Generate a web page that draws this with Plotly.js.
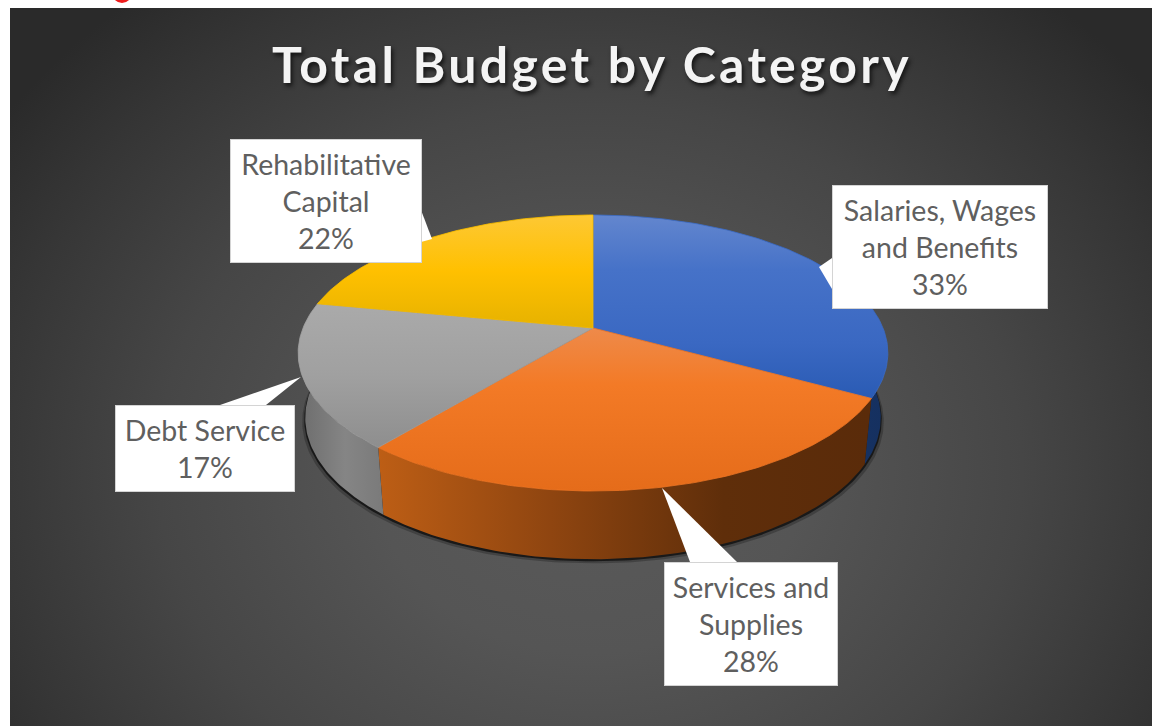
<!DOCTYPE html>
<html>
<head>
<meta charset="utf-8">
<script src="https://cdn.plot.ly/plotly-3.0.1.min.js"></script>
<style>
html,body{margin:0;padding:0;background:#fff;overflow:hidden}
#chart{width:1152px;height:726px}
#chart text{font-variant-ligatures:none}
.gtitle{letter-spacing:3.3px}
</style>
</head>
<body>
<div id="chart"></div>
<script>
// ---- data ----
const chartTitle = "Total Budget by Category";
const categories = ["Salaries, Wages and Benefits", "Services and Supplies", "Debt Service", "Rehabilitative Capital"];
const shares = [33, 28, 17, 22];
const labelLines = [["Salaries, Wages", "and Benefits"], ["Services and", "Supplies"], ["Debt Service"], ["Rehabilitative", "Capital"]];

// ---- styles ----
const topColors = [
  [[0, "#6386ce"], [0.3, "#4672c8"], [0.7, "#3a68c2"], [1, "#2a5bb4"]],
  [[0, "#ee8a4a"], [0.35, "#f37a26"], [1, "#e56c1a"]],
  [[0, "#aaaaaa"], [0.5, "#a0a0a0"], [1, "#8e8e8e"]],
  [[0, "#fdc834"], [0.5, "#ffc000"], [1, "#e6b200"]]
];
const seamColors = ["#3f6dc4", "#f07522", "#a0a0a0", "#f8bc00"];
const wallColors = [
  [[0, "#1f3f80"], [1, "#15305f"]],
  [[0, "#bd5e15"], [0.35, "#8f4510"], [0.7, "#5f2e0a"], [1, "#5a2b0a"]],
  [[0, "#6c6c6c"], [0.55, "#858585"], [1, "#7a7a7a"]],
  [[0, "#8a6a00"], [1, "#8a6a00"]]
];
const boxes = [
  {x0: 832, x1: 1048, y0: 185, y1: 309, tail: [[832, 258], [819, 267], [832, 289]]},
  {x0: 664, x1: 838, y0: 562, y1: 686, tail: [[690, 562], [662, 488], [737, 562]]},
  {x0: 115, x1: 295, y0: 405, y1: 492, tail: [[220, 405], [301, 377], [266, 405]]},
  {x0: 230, x1: 422, y0: 139, y1: 263, tail: [[421, 210], [432, 239], [421, 242]]}
];
// tilted disc, seen in perspective
const disc = {cx: 593, k: 0.181, top: {A: 290, B: 133.5, y: 328}, bottom: {A: 283, B: 137, y: 392}};
function rim(f, deg) {
  const t = deg * Math.PI / 180, u = Math.sin(t), v = Math.cos(t), w = 1 + disc.k * v;
  return [disc.cx + f.A * u / w, f.y - f.B * v / w];
}
function arc(f, a, b) {
  const n = Math.max(6, Math.round(Math.abs(b - a))), pts = [];
  for (let i = 0; i <= n; i++) pts.push(rim(f, a + (b - a) * i / n));
  return pts;
}
function poly(pts, extra) {
  return Object.assign({
    type: "scatter", mode: "lines", fill: "toself", hoverinfo: "skip", showlegend: false,
    x: pts.map(p => p[0]), y: pts.map(p => p[1]), line: {width: 0}
  }, extra);
}

const total = shares.reduce((a, b) => a + b, 0);
const traces = [];
// background
traces.push(poly([[-130, -140], [1310, -140], [1310, 1080], [-130, 1080]], {
  fillcolor: "#4a4a4a",
  fillgradient: {type: "radial", colorscale: [[0, "#5a5a5a"], [0.3, "#555555"], [0.6, "#464646"], [0.85, "#353535"], [1, "#2a2a2a"]]}
}));
// shadow under the disc
[[3, 4, "rgba(20,20,20,0.3)"], [1, 2, "rgba(15,15,15,0.8)"]].forEach(s => {
  const pts = arc(disc.bottom, 60, 290).map(p => [p[0] + s[0] * Math.sign(p[0] - disc.cx), p[1] + s[1]]);
  traces.push(poly(pts, {fillcolor: s[2]}));
});
// walls and top faces
const angles = [];
let run = 0;
shares.forEach(s => { const a = run / total * 360; run += s; angles.push([a, run / total * 360]); });
angles.forEach((ang, i) => {
  const pts = arc(disc.top, ang[0], ang[1]).concat(arc(disc.bottom, ang[1], ang[0]));
  const xs = pts.map(p => p[0]);
  traces.push(poly(pts, {
    name: categories[i] + " wall", fillcolor: wallColors[i][0][1],
    fillgradient: {type: "horizontal", colorscale: wallColors[i], start: Math.min(...xs), stop: Math.max(...xs)}
  }));
});
angles.forEach((ang, i) => {
  const pts = [[disc.cx, disc.top.y]].concat(arc(disc.top, ang[0], ang[1]));
  pts.push([disc.cx, disc.top.y]);
  const ys = pts.map(p => p[1]);
  traces.push(poly(pts, {
    name: categories[i], fillcolor: topColors[i][1][1],
    line: {width: 0.8, color: seamColors[i]},
    fillgradient: {type: "vertical", colorscale: topColors[i], start: Math.min(...ys), stop: Math.max(...ys)}
  }));
});
// label tails
boxes.forEach(b => traces.push(poly(b.tail.concat([b.tail[0]]), {fillcolor: "#ffffff"})));

// label boxes with text
const annotations = categories.map((c, i) => {
  const b = boxes[i];
  return {
    xref: "x", yref: "y", x: (b.x0 + b.x1) / 2, y: (b.y0 + b.y1) / 2,
    xanchor: "center", yanchor: "middle", showarrow: false,
    width: b.x1 - b.x0 - 2, height: b.y1 - b.y0 - 2, align: "center", valign: "middle",
    bgcolor: "#ffffff", bordercolor: "#d4d4d4", borderwidth: 1, borderpad: 0,
    text: labelLines[i].concat([shares[i] + "%"]).join("<br>"),
    font: {family: "Lato, Carlito, sans-serif", size: 28.5, color: "#5f5f5f"}
  };
});

const layout = {
  width: 1152, height: 726,
  margin: {l: 10, r: 0, t: 8, b: 0, pad: 0},
  paper_bgcolor: "#ffffff", plot_bgcolor: "#444444", showlegend: false,
  title: {
    text: chartTitle, x: 592 / 1152, xref: "container", xanchor: "center",
    y: 1 - 65 / 726, yref: "container", yanchor: "middle",
    font: {family: "Lato, sans-serif", size: 50, weight: 700, color: "#f4f4f4", shadow: "2px 3px 4px #151515"}
  },
  xaxis: {range: [10, 1152], visible: false, fixedrange: true},
  yaxis: {range: [726, 8], visible: false, fixedrange: true},
  annotations: annotations,
  shapes: [{
    type: "circle", xref: "paper", yref: "paper", layer: "above",
    x0: (112 - 10) / 1142, x1: (132 - 10) / 1142, y0: (726 - 3) / 718, y1: (726 + 17) / 718,
    fillcolor: "#ee1c1c", line: {width: 0}
  }]
};
Plotly.newPlot("chart", traces, layout, {displayModeBar: false, staticPlot: true});
</script>
</body>
</html>
